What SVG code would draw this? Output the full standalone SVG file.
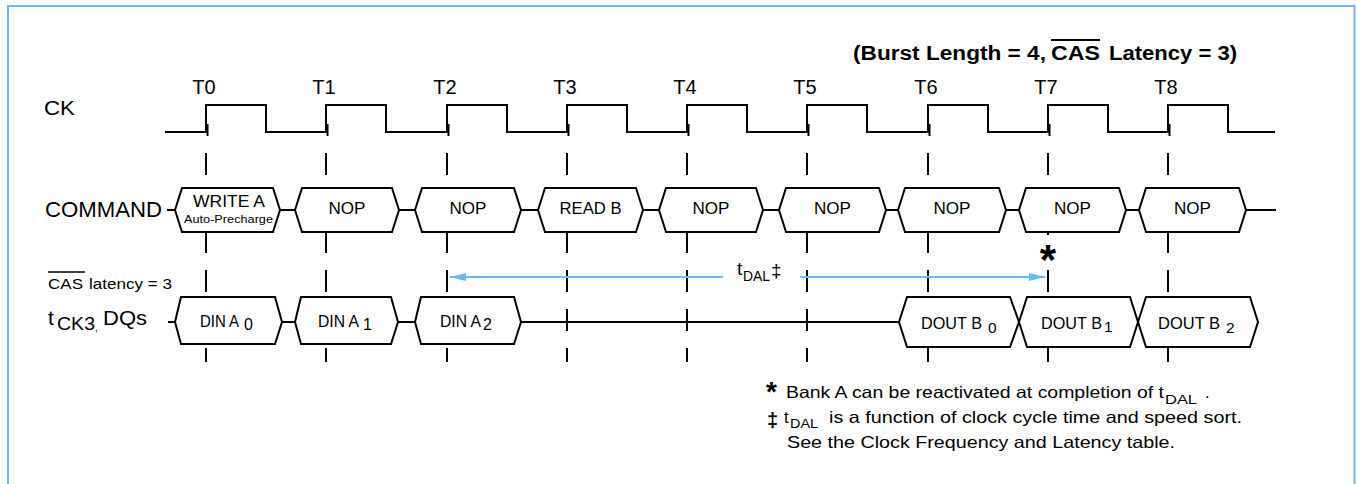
<svg xmlns="http://www.w3.org/2000/svg" width="1357" height="484" viewBox="0 0 1357 484">
<defs>
<style>
.t{font-family:'Liberation Sans',Arial,Helvetica,sans-serif;fill:#000}
.b{font-weight:bold}
.ln{stroke:#000;stroke-width:2;fill:none}
.box{fill:#fff;stroke:#000;stroke-width:2;stroke-linejoin:miter}
.dash{stroke:#000;stroke-width:2;stroke-dasharray:22 17}
.blue{stroke:#66b8ff;stroke-width:2;fill:none}
.mid{text-anchor:middle}
</style>
<marker id="ah" viewBox="0 0 16 8" refX="16" refY="4" markerWidth="16" markerHeight="8" markerUnits="userSpaceOnUse" orient="auto">
<path d="M0,0 L16,4 L0,8 z" fill="#66b8ff"/>
</marker>
</defs>
<rect x="0" y="0" width="1357" height="484" fill="#fff"/>
<path class="blue" d="M8,484 V6 H1354.5 V484"/>

<g id="title">
<text class="t b" x="853" y="60" font-size="19.5" textLength="193" lengthAdjust="spacingAndGlyphs">(Burst Length = 4,</text>
<text class="t b" x="1051" y="60" font-size="19.5" textLength="49" lengthAdjust="spacingAndGlyphs">CAS</text>
<line x1="1051" y1="40" x2="1100" y2="40" stroke="#000" stroke-width="2"/>
<text class="t b" x="1109" y="60" font-size="19.5" textLength="128" lengthAdjust="spacingAndGlyphs">Latency = 3)</text>
</g>

<g id="clock">
<text class="t" x="44" y="115" font-size="21" textLength="31" lengthAdjust="spacingAndGlyphs">CK</text>
<g font-size="20">
<text class="t mid" x="204" y="94">T0</text>
<text class="t mid" x="324" y="94">T1</text>
<text class="t mid" x="445" y="94">T2</text>
<text class="t mid" x="565" y="94">T3</text>
<text class="t mid" x="685" y="94">T4</text>
<text class="t mid" x="805" y="94">T5</text>
<text class="t mid" x="926" y="94">T6</text>
<text class="t mid" x="1046" y="94">T7</text>
<text class="t mid" x="1166" y="94">T8</text>
</g>
<path class="ln" d="M165,132 H206 V105 H266 V132 H326 V105 H386 V132 H447 V105 H507 V132 H567 V105 H627 V132 H687 V105 H747 V132 H807 V105 H867 V132 H928 V105 H988 V132 H1048 V105 H1108 V132 H1168 V105 H1228 V132 H1275"/>
<path class="ln" d="M207.5,124 V136 M327.5,124 V136 M448.5,124 V136 M568.5,124 V136 M688.5,124 V136 M808.5,124 V136 M929.5,124 V136 M1049.5,124 V136 M1169.5,124 V136"/>
</g>

<g id="connectors">
<line class="dash" x1="206" y1="153" x2="206" y2="362"/>
<line class="dash" x1="326" y1="153" x2="326" y2="362"/>
<line class="dash" x1="447" y1="153" x2="447" y2="362"/>
<line class="dash" x1="567" y1="153" x2="567" y2="362"/>
<line class="dash" x1="687" y1="153" x2="687" y2="362"/>
<line class="dash" x1="807" y1="153" x2="807" y2="362"/>
<line class="dash" x1="928" y1="153" x2="928" y2="362"/>
<line class="dash" x1="1048" y1="153" x2="1048" y2="362"/>
<line class="dash" x1="1168" y1="153" x2="1168" y2="362"/>
<line class="ln" x1="167" y1="210" x2="1276" y2="210"/>
<line class="ln" x1="168" y1="322" x2="899" y2="322"/>
<line class="blue" x1="723" y1="277" x2="450" y2="277" marker-end="url(#ah)"/>
<line class="blue" x1="800" y1="277" x2="1045" y2="277" marker-end="url(#ah)"/>
</g>

<g id="command-label">
<text class="t" x="45" y="217" font-size="22" textLength="117" lengthAdjust="spacingAndGlyphs">COMMAND</text>
</g>

<g id="cmd-0">
<path class="box" d="M175,210 L182,188 H273 L280,210 L273,232 H182 Z"/>
<text class="t mid" x="229" y="207" font-size="16" textLength="72" lengthAdjust="spacingAndGlyphs">WRITE A</text>
<text class="t mid" x="228.5" y="223" font-size="11.6" textLength="89" lengthAdjust="spacingAndGlyphs">Auto-Precharge</text>
</g>
<g id="cmd-1">
<path class="box" d="M295,210 L302,188 H392 L399,210 L392,232 H302 Z"/>
<text class="t mid" x="347" y="214" font-size="16" textLength="37" lengthAdjust="spacingAndGlyphs">NOP</text>
</g>
<g id="cmd-2">
<path class="box" d="M415,210 L422,188 H514 L521,210 L514,232 H422 Z"/>
<text class="t mid" x="468" y="214" font-size="16" textLength="37" lengthAdjust="spacingAndGlyphs">NOP</text>
</g>
<g id="cmd-3">
<path class="box" d="M538,210 L545,188 H636 L643,210 L636,232 H545 Z"/>
<text class="t mid" x="590.5" y="214" font-size="16" textLength="62" lengthAdjust="spacingAndGlyphs">READ B</text>
</g>
<g id="cmd-4">
<path class="box" d="M659,210 L666,188 H756 L763,210 L756,232 H666 Z"/>
<text class="t mid" x="711" y="214" font-size="16" textLength="37" lengthAdjust="spacingAndGlyphs">NOP</text>
</g>
<g id="cmd-5">
<path class="box" d="M779,210 L786,188 H879 L886,210 L879,232 H786 Z"/>
<text class="t mid" x="832.5" y="214" font-size="16" textLength="37" lengthAdjust="spacingAndGlyphs">NOP</text>
</g>
<g id="cmd-6">
<path class="box" d="M898,210 L905,188 H999 L1006,210 L999,232 H905 Z"/>
<text class="t mid" x="952" y="214" font-size="16" textLength="37" lengthAdjust="spacingAndGlyphs">NOP</text>
</g>
<g id="cmd-7">
<path class="box" d="M1019,210 L1026,188 H1119 L1126,210 L1119,232 H1026 Z"/>
<text class="t mid" x="1072.5" y="214" font-size="16" textLength="37" lengthAdjust="spacingAndGlyphs">NOP</text>
</g>
<g id="cmd-8">
<path class="box" d="M1139,210 L1146,188 H1239 L1246,210 L1239,232 H1146 Z"/>
<text class="t mid" x="1192.5" y="214" font-size="16" textLength="37" lengthAdjust="spacingAndGlyphs">NOP</text>
</g>

<g id="reactivate-mark">
<rect x="1039" y="235" width="18" height="20" fill="#fff"/>
<text class="t b mid" x="1048" y="274" font-size="42">*</text>
</g>

<g id="tdal-label">
<text class="t" x="737" y="275" font-size="19">t</text>
<text class="t" x="743" y="281" font-size="14.5" textLength="27" lengthAdjust="spacingAndGlyphs">DAL</text>
<text class="t" x="771" y="277" font-size="19">‡</text>
</g>

<g id="dq-label">
<text class="t" x="48" y="289" font-size="15" textLength="35" lengthAdjust="spacingAndGlyphs">CAS</text>
<line x1="48" y1="272" x2="85" y2="272" stroke="#000" stroke-width="1.5"/>
<text class="t" x="89" y="289" font-size="15" textLength="83" lengthAdjust="spacingAndGlyphs">latency = 3</text>
<text class="t" x="48" y="325" font-size="21">t</text>
<text class="t" x="57" y="330" font-size="18.5" textLength="38" lengthAdjust="spacingAndGlyphs">CK3</text>
<text class="t" x="95" y="331" font-size="10">,</text>
<text class="t" x="103" y="325" font-size="20.5" textLength="44" lengthAdjust="spacingAndGlyphs">DQs</text>
</g>

<g id="dq-0">
<path class="box" d="M175,322 L181,297 H275 L282,322 L275,344 H181 Z"/>
<text class="t" x="200" y="326.5" font-size="16" textLength="39" lengthAdjust="spacingAndGlyphs">DIN A</text>
<text class="t" x="244" y="330" font-size="16">0</text>
</g>
<g id="dq-1">
<path class="box" d="M295,322 L301,297 H391 L398,322 L391,344 H301 Z"/>
<text class="t" x="318" y="326.5" font-size="16" textLength="41" lengthAdjust="spacingAndGlyphs">DIN A</text>
<text class="t" x="363" y="329.5" font-size="16">1</text>
</g>
<g id="dq-2">
<path class="box" d="M415,322 L421,297 H514 L521,322 L514,344 H421 Z"/>
<text class="t" x="440" y="326.5" font-size="16" textLength="41" lengthAdjust="spacingAndGlyphs">DIN A</text>
<text class="t" x="483" y="329.5" font-size="16">2</text>
</g>
<g id="dq-3">
<path class="box" d="M899,322 L907,297 H1010 L1019,322 L1010,347 H907 Z"/>
<text class="t" x="921" y="329" font-size="16.5" textLength="61" lengthAdjust="spacingAndGlyphs">DOUT B</text>
<text class="t" x="988" y="333" font-size="15.5">0</text>
</g>
<g id="dq-4">
<path class="box" d="M1019,322 L1027,297 H1130 L1138,322 L1130,347 H1027 Z"/>
<text class="t" x="1041" y="329" font-size="16.5" textLength="61" lengthAdjust="spacingAndGlyphs">DOUT B</text>
<text class="t" x="1104" y="332" font-size="15.5">1</text>
</g>
<g id="dq-5">
<path class="box" d="M1138,322 L1146,297 H1250 L1258,322 L1250,347 H1146 Z"/>
<text class="t" x="1158" y="329" font-size="16.5" textLength="62" lengthAdjust="spacingAndGlyphs">DOUT B</text>
<text class="t" x="1226" y="333" font-size="15.5">2</text>
</g>

<g id="footnotes">
<text class="t b" x="766" y="401" font-size="28">*</text>
<text class="t" x="786" y="398" font-size="16.5" textLength="378" lengthAdjust="spacingAndGlyphs">Bank A can be reactivated at completion of t</text>
<text class="t" x="1165" y="404" font-size="13.5" textLength="32" lengthAdjust="spacingAndGlyphs">DAL</text>
<text class="t" x="1205" y="398" font-size="16.5">.</text>
<text class="t b" x="767" y="427" font-size="20">‡</text>
<text class="t" x="784" y="423" font-size="16.5">t</text>
<text class="t" x="790" y="428" font-size="13.5" textLength="28" lengthAdjust="spacingAndGlyphs">DAL</text>
<text class="t" x="829" y="423" font-size="16.5" textLength="413" lengthAdjust="spacingAndGlyphs">is a function of clock cycle time and speed sort.</text>
<text class="t" x="787" y="448" font-size="16.5" textLength="388" lengthAdjust="spacingAndGlyphs">See the Clock Frequency and Latency table.</text>
</g>
</svg>
